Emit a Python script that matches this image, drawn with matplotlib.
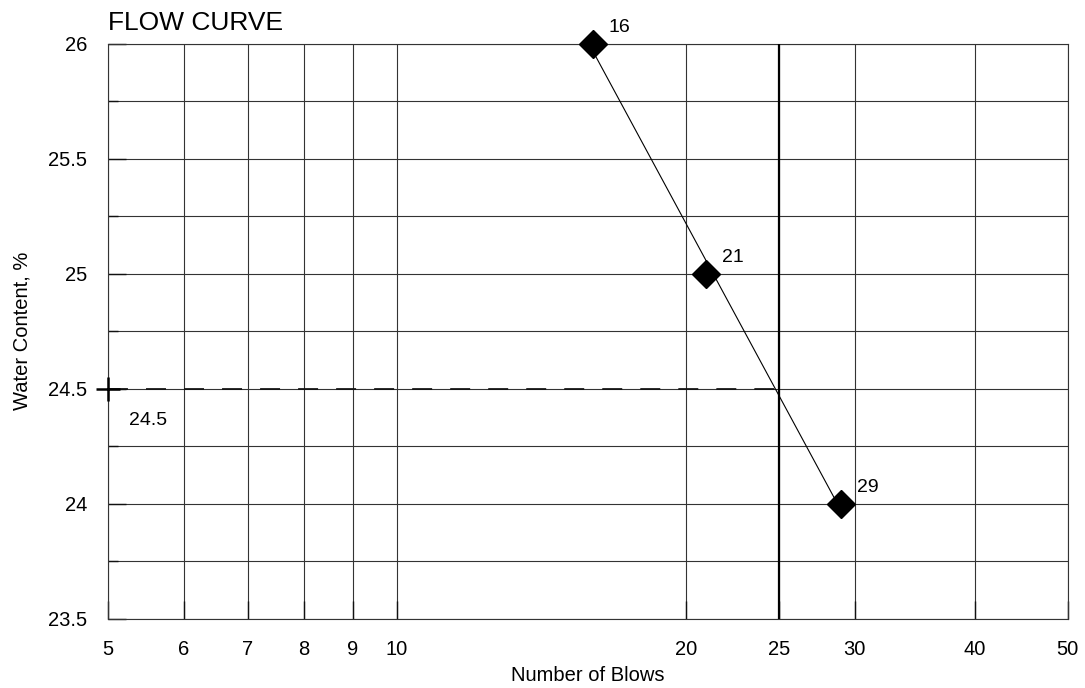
import numpy as np
import matplotlib.pyplot as plt
from matplotlib.ticker import FixedLocator, MultipleLocator, NullLocator, FuncFormatter

plt.rcParams['font.family'] = ['Liberation Sans', 'DejaVu Sans']

# liquid limit test: number of blows vs water content
blows = [16, 21, 29]
water_content = [26.0, 25.0, 24.0]
x_ticks = [5, 6, 7, 8, 9, 10, 20, 25, 30, 40, 50]
y_ticks = [23.5, 24, 24.5, 25, 25.5, 26]

# semilog least-squares fit, liquid limit taken at 25 blows
slope, intercept = np.polyfit(np.log10(blows), water_content, 1)
liquid_limit = round(slope * np.log10(25) + intercept, 1)

fig = plt.figure(figsize=(10.85, 6.88), dpi=100)
ax = fig.add_axes([0.0993, 0.1007, 0.8848, 0.8358])
ax.set_xscale('log')
ax.set_xlim(5, 50)
ax.set_ylim(23.5, 26)

fmt = FuncFormatter(lambda v, p: '%g' % v)
ax.xaxis.set_major_locator(FixedLocator(x_ticks))
ax.xaxis.set_minor_locator(NullLocator())
ax.xaxis.set_major_formatter(fmt)
ax.yaxis.set_major_locator(FixedLocator(y_ticks))
ax.yaxis.set_minor_locator(MultipleLocator(0.25))
ax.yaxis.set_major_formatter(fmt)

ax.grid(which='both', color='#333333', lw=0.8)
ax.tick_params(which='major', direction='in', length=13, width=1.0, color='#111111',
               labelsize=14.5, pad=15)
ax.tick_params(which='minor', direction='in', length=7, width=1.0, color='#111111')
for s in ax.spines.values():
    s.set_color('#333333')
    s.set_linewidth(0.8)

# 25 blow reference
ax.axvline(25, color='black', lw=1.6, zorder=3)

# fitted flow line over the tested range
xs = np.array([min(blows), max(blows)])
ax.plot(xs, slope * np.log10(xs) + intercept, color='black', lw=0.8, zorder=4)

ax.plot(blows, water_content, 'D', color='black', ms=14, zorder=5, clip_on=False)
for b, w in zip(blows, water_content):
    ax.annotate(str(b), (b, w), xytext=(11.5, 8.6), textcoords='offset points',
                fontsize=14, ha='left', va='baseline')

# liquid limit readout
ax.plot([5, 25], [liquid_limit, liquid_limit], color='#111111', lw=1.25,
        ls=(0, (11.5, 10.4)), zorder=4)
ax.plot([5], [liquid_limit], '+', color='black', ms=17, mew=1.8, zorder=6, clip_on=False)
ax.annotate('%g' % liquid_limit, (5, liquid_limit), xytext=(15.5, -26),
            textcoords='offset points', fontsize=14, ha='left', va='baseline')

ax.set_xlabel('Number of Blows', fontsize=14.5, labelpad=5.5)
ax.set_ylabel('Water Content, %', fontsize=14.5, labelpad=12)
fig.text(107.7 / 1085, 1 - 29.5 / 688, 'FLOW CURVE', fontsize=19, va='baseline')

fig.savefig('out.png', dpi=100)
